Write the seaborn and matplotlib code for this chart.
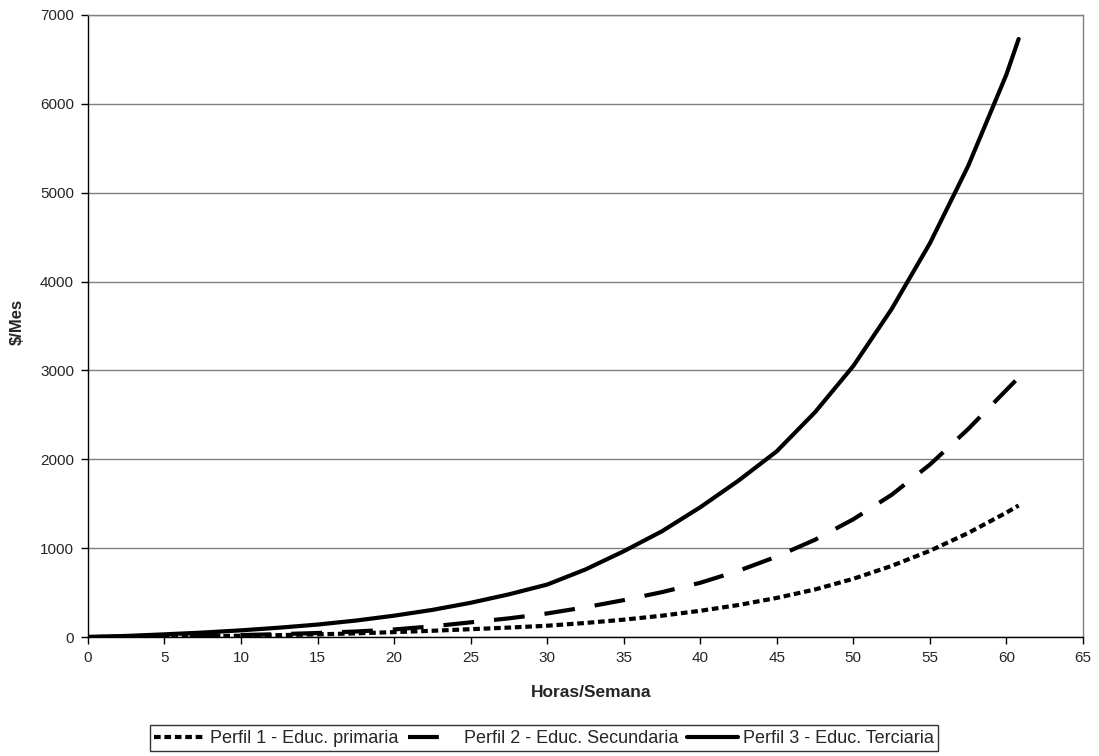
import matplotlib
matplotlib.use("Agg")
import matplotlib.pyplot as plt
import seaborn as sns
import pandas as pd
from matplotlib.lines import Line2D

# Horas por semana (eje x)
horas = [0, 2.5, 5, 7.5, 10, 12.5, 15, 17.5, 20, 22.5, 25, 27.5, 30, 32.5,
         35, 37.5, 40, 42.5, 45, 47.5, 50, 52.5, 55, 57.5, 60, 60.8]

# $/Mes por perfil
perfil1 = [0, 2, 5, 9, 14, 21, 30, 41, 55, 70, 88, 106, 127, 158,
           195, 240, 295, 360, 440, 535, 655, 800, 970, 1170, 1400, 1480]
perfil2 = [0, 3, 8, 14, 22, 32, 45, 62, 85, 120, 165, 210, 265, 335,
           415, 505, 610, 745, 905, 1095, 1325, 1600, 1940, 2340, 2780, 2920]
perfil3 = [0, 12, 30, 50, 75, 105, 140, 185, 240, 305, 385, 480, 590, 760,
           965, 1190, 1460, 1760, 2090, 2530, 3050, 3690, 4430, 5300, 6330, 6730]

nombres = ["Perfil 1 - Educ. primaria",
           "Perfil 2 - Educ. Secundaria",
           "Perfil 3 - Educ. Terciaria"]

df = pd.concat([
    pd.DataFrame({"horas": horas, "valor": vals, "perfil": nom})
    for vals, nom in zip([perfil1, perfil2, perfil3], nombres)
])

sns.set_style("white")
plt.rcParams["font.family"] = ["Liberation Sans", "DejaVu Sans"]

grosor = 3.0
estilos = {nombres[0]: (1.6, 0.9), nombres[1]: (7.4, 4.8), nombres[2]: ""}

fig = plt.figure(figsize=(10.99, 7.56), dpi=100)
ax = fig.add_axes([0.080, 0.1574, 0.9054, 0.8228])

sns.lineplot(data=df, x="horas", y="valor", hue="perfil", style="perfil",
             palette=["black"] * 3, dashes=estilos, linewidth=grosor,
             legend=False, ax=ax, sort=False)

ax.set_xlim(0, 65)
ax.set_ylim(0, 7000)
ax.set_xticks(range(0, 66, 5))
ax.set_yticks(range(0, 7001, 1000))
ax.yaxis.grid(True, color="#808080", linewidth=1)
ax.set_axisbelow(True)

for lado in ["top", "right"]:
    ax.spines[lado].set_color("#808080")
for lado in ["left", "bottom"]:
    ax.spines[lado].set_color("black")
for sp in ax.spines.values():
    sp.set_linewidth(1)

ax.tick_params(axis="both", direction="out", length=5, width=1,
               color="black", labelsize=11, bottom=True, left=True, pad=5)

ax.set_xlabel("Horas/Semana", fontsize=12.5, fontweight="bold")
ax.set_ylabel(r"\$/Mes", fontsize=12, fontweight="bold")
ax.xaxis.label.set_va("center")
ax.yaxis.label.set_va("center")
ax.xaxis.set_label_coords(0.506, -0.090)
ax.yaxis.set_label_coords(-0.0714, 0.506)

handles = [Line2D([0], [0], color="black", linewidth=grosor,
                  linestyle=(0, estilos[n]) if estilos[n] else "-")
           for n in nombres]
leg = fig.legend(handles, nombres, loc="center", bbox_to_anchor=(0.495, 0.0232),
                 ncol=3, frameon=True, fancybox=False, fontsize=13,
                 handlelength=2.8, handletextpad=0.3, columnspacing=0.5,
                 borderpad=0.25, borderaxespad=0, edgecolor="black")
leg.get_frame().set_linewidth(1)

fig.savefig("out.png", dpi=100)
